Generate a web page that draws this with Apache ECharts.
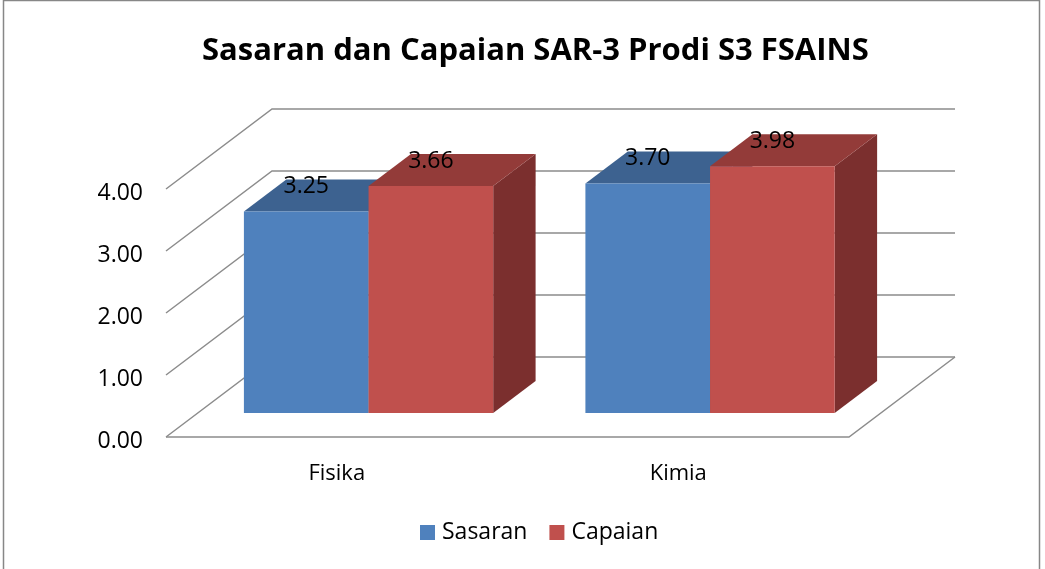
<!DOCTYPE html>
<html>
<head>
<meta charset="utf-8">
<script src="https://cdn.jsdelivr.net/npm/echarts@6/dist/echarts.min.js"></script>
<style>
  html, body { margin: 0; padding: 0; background: #fff; }
  #main { width: 1045px; height: 569px; }
</style>
</head>
<body>
<div id="main"></div>
<script>
var categories = ['Fisika', 'Kimia'];
var sasaran = [3.25, 3.70];
var capaian = [3.66, 3.98];
var yTicks = [0, 1, 2, 3, 4];

// oblique depth of the floor, bars sit between 30% and 70% of it
var DX = 106, DY = -80;
var FRONT = 0.3, BACK = 0.7;
var font = '"Open Sans", "Noto Sans", sans-serif';

var colors = {
    blue: { front: '#4F81BD', top: '#3D6290', side: '#33527A' },
    red: { front: '#C0504D', top: '#933B39', side: '#7B2F2E' }
};

function wallItem(params, api) {
    var cs = params.coordSys;
    var v = api.value(1);
    var y0 = api.coord([0, v])[1];
    var lineStyle = { stroke: '#8c8c8c', lineWidth: 1.5, fill: null };
    var pts = [[cs.x, y0], [cs.x + DX, y0 + DY], [cs.x + cs.width + DX, y0 + DY]];
    var children = [{ type: 'polyline', shape: { points: pts }, style: lineStyle }];
    if (v === 0) {
        children.push({
            type: 'polyline',
            shape: { points: [[cs.x, y0], [cs.x + cs.width, y0], [cs.x + cs.width + DX, y0 + DY]] },
            style: lineStyle
        });
    }
    return { type: 'group', children: children };
}

function barItem(c, side) {
    return function (params, api) {
        var idx = api.value(0);
        var v = api.value(1);
        var base = api.coord([idx, 0]);
        var top = api.coord([idx, v]);
        var w = api.size([1, 0])[0] * 0.365;
        var fx = FRONT * DX, fy = FRONT * DY;
        var dx = (BACK - FRONT) * DX, dy = (BACK - FRONT) * DY;
        var x0 = base[0] + fx + (side < 0 ? -w : 0);
        var x1 = x0 + w;
        var yb = base[1] + fy;
        var yt = top[1] + fy;
        return {
            type: 'group',
            children: [
                { type: 'polygon', shape: { points: [[x1, yb], [x1 + dx, yb + dy], [x1 + dx, yt + dy], [x1, yt]] }, style: { fill: c.side } },
                { type: 'polygon', shape: { points: [[x0, yt], [x1, yt], [x1 + dx, yt + dy], [x0 + dx, yt + dy]] }, style: { fill: c.top } },
                { type: 'rect', shape: { x: x0, y: yt, width: w, height: yb - yt }, style: { fill: c.front } },
                {
                    type: 'text',
                    style: {
                        text: v.toFixed(2), x: (x0 + x1) / 2, y: yt - 25,
                        align: 'center', verticalAlign: 'middle',
                        fontSize: 23, fontFamily: font, fill: '#000'
                    }
                }
            ]
        };
    };
}

var chart = echarts.init(document.getElementById('main'));
chart.setOption({
    animation: false,
    title: {
        text: 'Sasaran dan Capaian SAR-3 Prodi S3 FSAINS',
        left: 197,
        top: 31,
        textStyle: { fontFamily: font, fontSize: 31, fontWeight: 'bold', color: '#000' }
    },
    legend: {
        data: ['Sasaran', 'Capaian'],
        bottom: 20,
        left: 415,
        icon: 'rect',
        itemWidth: 15,
        itemHeight: 15,
        itemGap: 22,
        textStyle: { fontFamily: font, fontSize: 23, color: '#000', padding: [0, 0, 0, 2] }
    },
    grid: { left: 166, right: 196, top: 189, bottom: 132 },
    xAxis: {
        type: 'category',
        data: categories,
        axisLine: { show: false },
        axisTick: { show: false },
        axisLabel: { margin: 26, fontFamily: font, fontSize: 22, color: '#000' }
    },
    yAxis: {
        type: 'value',
        min: 0, max: 4, interval: 1,
        axisLine: { show: false },
        axisTick: { show: false },
        splitLine: { show: false },
        axisLabel: {
            margin: 23, color: '#000',
            formatter: function (v) { return '{a|' + v.toFixed(2) + '}'; },
            rich: { a: { fontFamily: font, fontSize: 23, color: '#000', padding: [8, 0, 0, 0] } }
        }
    },
    graphic: [{
        type: 'rect',
        shape: { x: 3.5, y: 0.5, width: 1036, height: 600 },
        style: { fill: null, stroke: '#878787', lineWidth: 1.5 },
        silent: true
    }],
    series: [
        {
            type: 'custom', name: 'wall', clip: false, silent: true,
            renderItem: wallItem,
            data: yTicks.map(function (t) { return [0, t]; }),
            encode: { x: 0, y: 1 }, z: 1
        },
        {
            type: 'custom', name: 'Sasaran', clip: false,
            itemStyle: { color: colors.blue.front },
            renderItem: barItem(colors.blue, -1),
            data: sasaran.map(function (v, i) { return [i, v]; }),
            encode: { x: 0, y: 1 }, z: 2
        },
        {
            type: 'custom', name: 'Capaian', clip: false,
            itemStyle: { color: colors.red.front },
            renderItem: barItem(colors.red, 1),
            data: capaian.map(function (v, i) { return [i, v]; }),
            encode: { x: 0, y: 1 }, z: 3
        }
    ]
});
</script>
</body>
</html>
